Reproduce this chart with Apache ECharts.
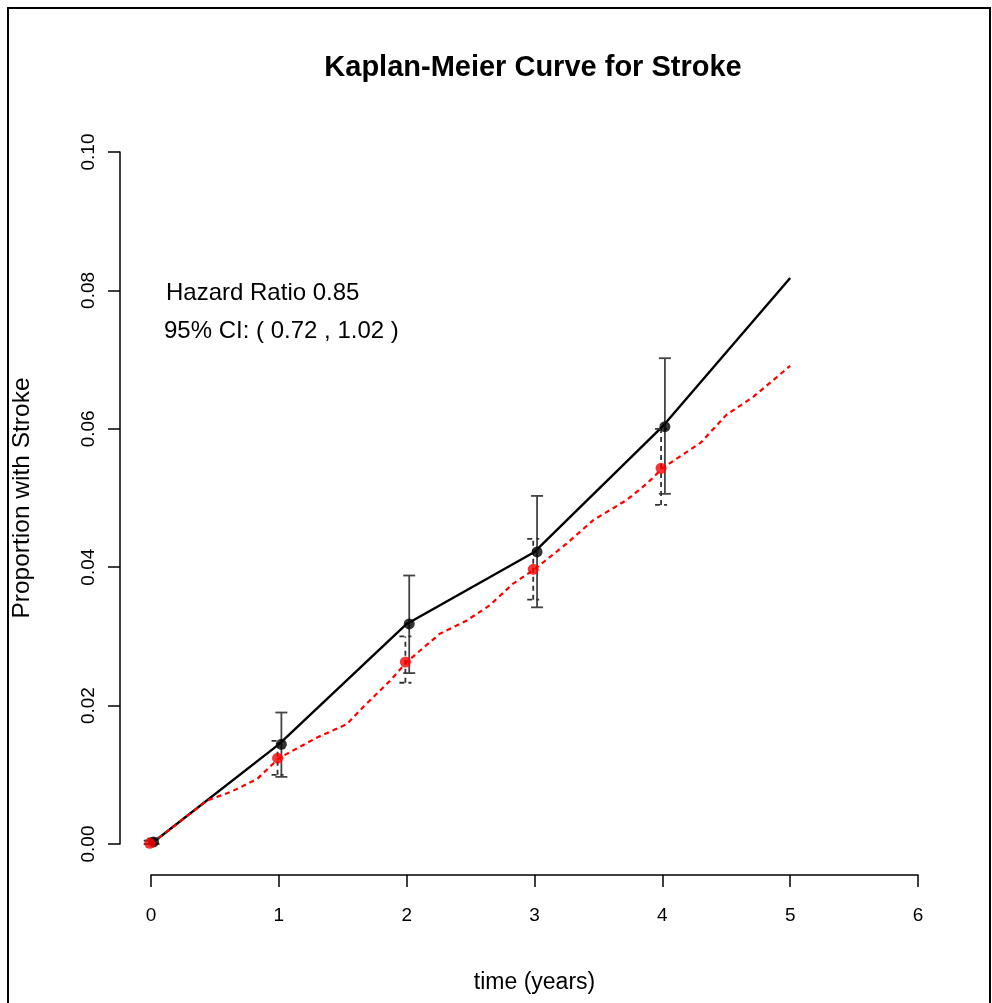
<!DOCTYPE html>
<html>
<head>
<meta charset="utf-8">
<title>Kaplan-Meier Curve for Stroke</title>
<script src="https://cdn.jsdelivr.net/npm/echarts@6/dist/echarts.min.js"></script>
<style>
  html, body { margin: 0; padding: 0; background: #fff; }
  #chart { width: 992px; height: 1003px; }
</style>
</head>
<body>
<div id="chart"></div>
<script>
// Yearly cumulative incidence with 95% confidence limits, two groups
const years = [0, 1, 2, 3, 4];

const blackEst   = [0.0003, 0.0144, 0.0318, 0.0422, 0.0603];
const blackLower = [0.0000, 0.0097, 0.0247, 0.0342, 0.0506];
const blackUpper = [0.0008, 0.0190, 0.0388, 0.0503, 0.0702];

const redEst   = [0.0001, 0.0124, 0.0263, 0.0397, 0.0543];
const redLower = [0.0000, 0.0100, 0.0233, 0.0353, 0.0490];
const redUpper = [0.0005, 0.0149, 0.0300, 0.0441, 0.0600];

// Kaplan-Meier curves (time in years, proportion with stroke)
const blackCurveTimes  = [0, 1, 2, 3, 4, 5];
const blackCurveValues = [0.0000, 0.0144, 0.0318, 0.0422, 0.0603, 0.0818];

const redCurveTimes  = [0, 0.44, 0.62, 0.83, 1.0, 1.30, 1.53, 1.66, 1.87, 2.0, 2.26, 2.47,
                        2.65, 2.83, 3.0, 3.25, 3.46, 3.72, 3.88, 4.0, 4.30, 4.50, 4.71, 5.0];
const redCurveValues = [0.0000, 0.0063, 0.0075, 0.0094, 0.0124, 0.0154, 0.0173, 0.0198, 0.0236,
                        0.0263, 0.0304, 0.0323, 0.0345, 0.0376, 0.0397, 0.0434, 0.0468, 0.0497,
                        0.0521, 0.0543, 0.0580, 0.0620, 0.0646, 0.0691];

const xTicks = [0, 1, 2, 3, 4, 5, 6];
const yTicks = [0.00, 0.02, 0.04, 0.06, 0.08, 0.10];

const titleText = 'Kaplan-Meier Curve for Stroke';
const hrText = 'Hazard Ratio 0.85';
const ciText = '95% CI: ( 0.72 , 1.02 )';

// small horizontal dodge so the two groups' markers and bars don't overlap
const blackDodge = 0.02;
const redDodge = -0.01;

const FONT = '"Liberation Sans", Arial, Helvetica, sans-serif';

const zip = (xs, ys) => xs.map((x, i) => [x, ys[i]]);

function errorBarItem(stroke, dash) {
  return function (params, api) {
    const x = api.value(0);
    const lo = api.coord([x, api.value(1)]);
    const hi = api.coord([x, api.value(2)]);
    const cap = 6;
    const style = { stroke: stroke, lineWidth: 1.8, lineDash: dash, fill: null };
    return {
      type: 'group',
      children: [
        { type: 'line', shape: { x1: lo[0], y1: lo[1], x2: hi[0], y2: hi[1] }, style: style },
        { type: 'line', shape: { x1: hi[0] - cap, y1: hi[1], x2: hi[0] + cap, y2: hi[1] }, style: style },
        { type: 'line', shape: { x1: lo[0] - cap, y1: lo[1], x2: lo[0] + cap, y2: lo[1] }, style: style }
      ]
    };
  };
}

const chart = echarts.init(document.getElementById('chart'), null, { renderer: 'canvas' });

chart.setOption({
  animation: false,
  backgroundColor: '#fff',
  title: {
    text: titleText,
    left: 528,
    top: 48,
    textAlign: 'center',
    textStyle: { fontFamily: FONT, fontWeight: 'bold', fontSize: 29, color: '#000' }
  },
  grid: { left: 151, right: 74, top: 152, bottom: 159 },
  xAxis: {
    type: 'value',
    min: xTicks[0],
    max: xTicks[xTicks.length - 1],
    interval: 1,
    offset: 31,
    name: 'time (years)',
    nameLocation: 'middle',
    nameGap: 96,
    nameTextStyle: { fontFamily: FONT, fontSize: 23, color: '#000' },
    axisLine: { show: true, onZero: false, lineStyle: { color: '#000', width: 1.5 } },
    axisTick: { show: true, length: 12, lineStyle: { color: '#000', width: 1.5 } },
    axisLabel: {
      margin: 31, fontFamily: FONT, fontSize: 19, color: '#000',
      formatter: v => String(v)
    },
    splitLine: { show: false }
  },
  yAxis: {
    type: 'value',
    min: yTicks[0],
    max: yTicks[yTicks.length - 1],
    interval: 0.02,
    offset: 31,
    name: 'Proportion with Stroke',
    nameLocation: 'middle',
    nameGap: 85,
    nameTextStyle: { fontFamily: FONT, fontSize: 24.5, color: '#000' },
    axisLine: { show: true, onZero: false, lineStyle: { color: '#000', width: 1.5 } },
    axisTick: { show: true, length: 12, lineStyle: { color: '#000', width: 1.5 } },
    axisLabel: {
      rotate: 90, margin: 22, fontFamily: FONT, fontSize: 19, color: '#000',
      formatter: v => v.toFixed(2)
    },
    splitLine: { show: false }
  },
  graphic: [
    {
      type: 'rect', silent: true, z: 100,
      shape: { x: 8, y: 8, width: 982, height: 1010 },
      style: { fill: null, stroke: '#000', lineWidth: 2 }
    },
    {
      type: 'text', left: 166, top: 281, z: 100,
      style: { text: hrText, font: '24px ' + FONT, fill: '#000' }
    },
    {
      type: 'text', left: 164, top: 319, z: 100,
      style: { text: ciText, font: '24px ' + FONT, fill: '#000' }
    }
  ],
  series: [
    {
      name: 'curve-black', type: 'line', clip: false, symbol: 'none',
      data: zip(blackCurveTimes, blackCurveValues),
      lineStyle: { color: '#000', width: 2.4 }, z: 2
    },
    {
      name: 'curve-red', type: 'line', clip: false, symbol: 'none',
      data: zip(redCurveTimes, redCurveValues),
      lineStyle: { color: '#ff0000', width: 2.2, type: [5, 4] }, z: 3
    },
    {
      name: 'ci-black', type: 'custom', clip: false, z: 4,
      renderItem: errorBarItem('#444', null),
      data: years.map((t, i) => [t + blackDodge, blackLower[i], blackUpper[i]])
    },
    {
      name: 'ci-red', type: 'custom', clip: false, z: 4,
      renderItem: errorBarItem('#333', [5, 4]),
      data: years.map((t, i) => [t + redDodge, redLower[i], redUpper[i]])
    },
    {
      name: 'points-black', type: 'scatter', clip: false, z: 5,
      symbol: 'circle', symbolSize: 11,
      itemStyle: { color: '#000' },
      data: years.map((t, i) => [t + blackDodge, blackEst[i]])
    },
    {
      name: 'points-red', type: 'scatter', clip: false, z: 6,
      symbol: 'circle', symbolSize: 11,
      itemStyle: { color: '#ff0000' },
      data: years.map((t, i) => [t + redDodge, redEst[i]])
    }
  ]
});
</script>
</body>
</html>
